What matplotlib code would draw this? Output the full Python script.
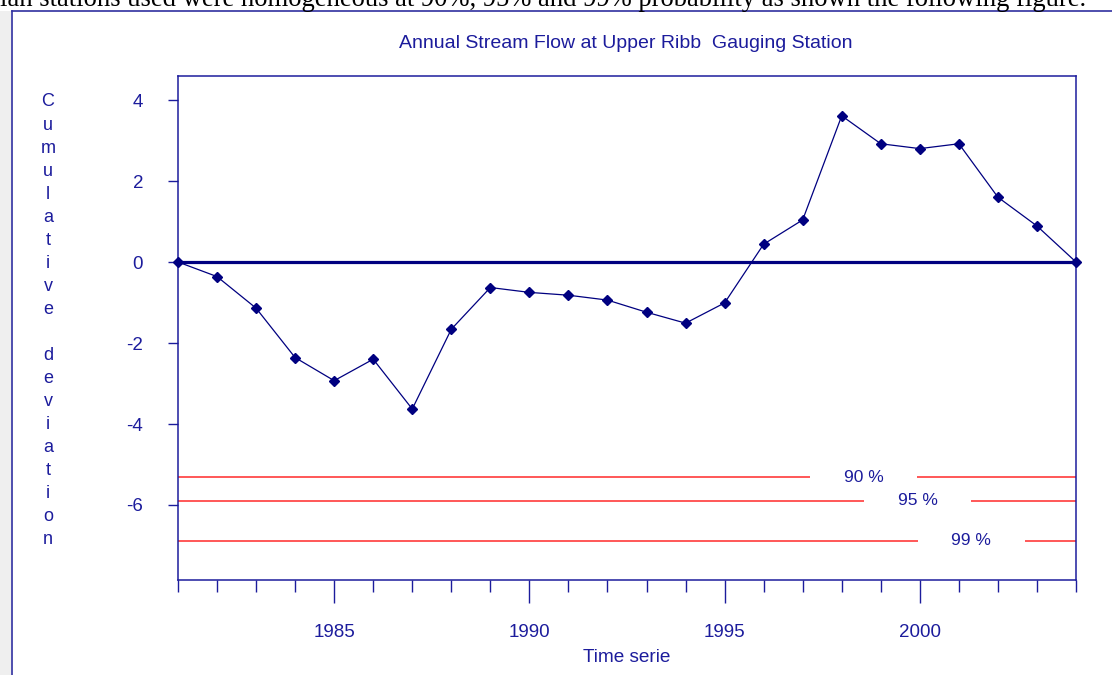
import matplotlib
matplotlib.use("Agg")
import matplotlib.pyplot as plt
from matplotlib.lines import Line2D
from matplotlib.patches import Rectangle

plt.rcParams["axes.unicode_minus"] = False

years = list(range(1981, 2005))
cum_dev = [0.0, -0.36, -1.14, -2.36, -2.93, -2.40, -3.63, -1.66, -0.63, -0.75,
           -0.82, -0.94, -1.24, -1.51, -1.01, 0.44, 1.04, 3.61, 2.92, 2.80,
           2.92, 1.60, 0.89, 0.0]
levels = [-5.32, -5.90, -6.88]
level_labels = ["90 %", "95 %", "99 %"]
label_x = [1998.56, 1999.95, 2001.32]
yticks = [-6, -4, -2, 0, 2, 4]
xticks_major = [1985, 1990, 1995, 2000]

blue = "#1c1c9c"
navy = "#000080"
red = "#ff2a2a"

fig = plt.figure(figsize=(11.12, 6.75), dpi=100)
fig.patch.set_facecolor("white")

# page bits around the screenshot: text line, gray strip, window frame
fig.text(0.0, 1 - 6 / 675, "ian stations used were homogeneous at 90%, 95% and 99% probability as shown the following figure.",
         family="Liberation Serif", fontsize=19.2, color="black", va="baseline", ha="left")
fig.patches.append(Rectangle((0, 0), 11 / 1112, 1 - 11 / 675, transform=fig.transFigure,
                             facecolor="#efefef", edgecolor="none"))
fig.lines.append(Line2D([12 / 1112, 1], [1 - 11 / 675] * 2, transform=fig.transFigure, color="#3030a0", lw=1.2))
fig.lines.append(Line2D([12 / 1112] * 2, [0, 1 - 11 / 675], transform=fig.transFigure, color="#3030a0", lw=1.2))

ax = fig.add_axes([178 / 1112, 1 - 580 / 675, (1076 - 178) / 1112, (580 - 76) / 675])
ax.set_xlim(1981, 2004)
ax.set_ylim(-7.852, 4.593)

for s in ax.spines.values():
    s.set_color(blue)
    s.set_linewidth(1.1)

ax.axhline(0, color=navy, lw=2.3, zorder=2)
ax.plot(years, cum_dev, color=navy, lw=0.9, marker="D", ms=5, mfc=navy, mec=navy, zorder=3, clip_on=False)

gap = 1.37
for lv, lab, cx in zip(levels, level_labels, label_x):
    ax.hlines(lv, 1981, cx - gap, color=red, lw=1.1)
    ax.hlines(lv, cx + gap, 2004, color=red, lw=1.1)
    ax.text(cx, lv, lab, color=blue, ha="center", va="center", fontsize=12.5, family="Liberation Sans")

ax.set_yticks(yticks)
ax.set_xticks(xticks_major)
ax.set_xticks(years, minor=True)
ax.tick_params(axis="y", colors=blue, length=7.2, width=1.0, pad=18, labelsize=13.5, right=False)
ax.tick_params(axis="x", which="major", colors=blue, length=16.5, width=1.0, pad=15, labelsize=13.5)
ax.tick_params(axis="x", which="minor", colors=blue, length=8.6, width=1.0)
for lbl in ax.get_xticklabels() + ax.get_yticklabels():
    lbl.set_family("Liberation Sans")

fig.text(626 / 1112, 1 - 44 / 675, "Annual Stream Flow at Upper Ribb  Gauging Station", color=blue,
         ha="center", va="center", fontsize=14, family="Liberation Sans")
fig.text(627 / 1112, 1 - 658 / 675, "Time serie", color=blue, ha="center", va="center",
         fontsize=13.7, family="Liberation Sans")

label = "Cumulative deviation"
for i, ch in enumerate(label):
    fig.text(48 / 1112, 1 - (102 + 23.05 * i) / 675, ch, color=blue, ha="center", va="center",
             fontsize=13, family="Liberation Sans")

fig.savefig("out.png", dpi=100)
